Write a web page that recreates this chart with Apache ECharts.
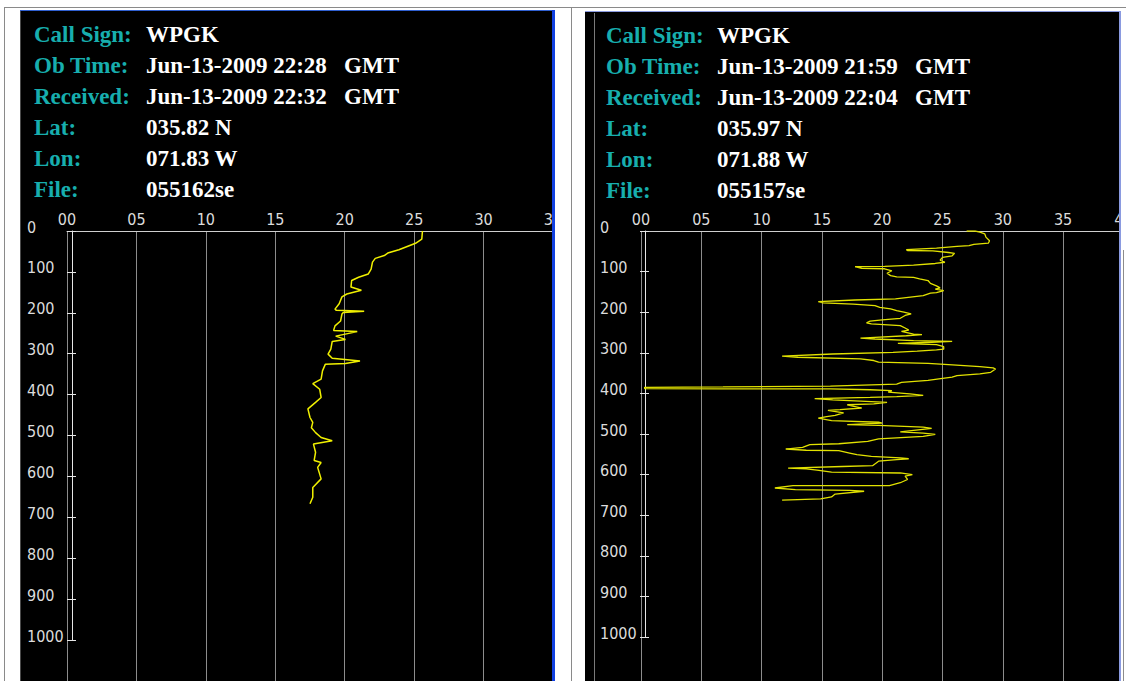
<!DOCTYPE html>
<html>
<head>
<meta charset="utf-8">
<script src="https://cdn.jsdelivr.net/npm/echarts@6/dist/echarts.min.js"></script>
<style>
html, body { margin: 0; padding: 0; background: #fff; }
#xbtChart { width: 1126px; height: 681px; }
</style>
</head>
<body>
<div id="xbtChart"></div>
<script>
// header fields
var headerLabels = ['Call Sign:', 'Ob Time:', 'Received:', 'Lat:', 'Lon:', 'File:'];
var leftHeader = ['WPGK', 'Jun-13-2009 22:28\u00a0\u00a0\u00a0GMT', 'Jun-13-2009 22:32\u00a0\u00a0\u00a0GMT', '035.82 N', '071.83 W', '055162se'];
var rightHeader = ['WPGK', 'Jun-13-2009 21:59\u00a0\u00a0\u00a0GMT', 'Jun-13-2009 22:04\u00a0\u00a0\u00a0GMT', '035.97 N', '071.88 W', '055157se'];

// temperature axis (top) and depth axis (left)
var leftTempMax = 35;
var rightTempMax = 40;
var tempStep = 5;
var depthMax = 1000;
var depthStep = 100;

// profile 055162se: temperature / depth
var leftTemp = [25.6, 25.55, 25.1, 24.5, 23.9, 23.1, 22.85, 22.2, 22.0, 21.9, 21.7, 21.0, 20.5, 20.45, 21.2, 20.15,
	19.8, 19.6, 19.3, 19.4, 21.4, 19.9, 19.8, 19.7, 19.3, 19.2, 20.9, 19.35, 20.05, 19.1, 19.0, 18.8, 19.1, 21.1,
	20.05, 18.6, 18.4, 18.3, 17.7, 18.2, 18.3, 17.9, 17.35, 17.5, 17.7, 17.6, 17.9, 18.3, 19.1, 17.75, 17.9, 17.8,
	18.3, 18.05, 18.3, 17.7, 17.7, 17.5];
var leftDepth = [0, 20, 30, 38, 46, 54, 60, 67, 76, 93, 105, 113, 121, 137, 145, 154,
	161, 178, 191, 194, 196, 199, 203, 220, 232, 243, 246, 257, 265, 270, 289, 301, 311, 318,
	324, 326, 342, 362, 373, 387, 407, 419, 435, 456, 468, 481, 493, 505, 513, 521, 541, 561,
	566, 578, 606, 627, 651, 667];

// profile 055157se: temperature / depth
var rightTemp = [27.0, 27.7, 28.1, 28.5, 28.6, 28.9, 28.8, 27.6, 27.2, 26.2, 24.5, 22.0, 22.1, 24.2, 25.5, 26.0,
	25.8, 25.0, 24.8, 25.2, 24.4, 22.6, 20.2, 17.75, 18.3, 20.2, 20.8, 20.4, 20.7, 21.2, 22.6, 23.1, 23.8, 24.0,
	24.5, 24.8, 24.4, 25.1, 24.5, 24.0, 23.4, 21.1, 17.75, 14.7, 15.1, 17.6, 19.4, 19.8, 20.7, 21.2, 21.8, 22.4,
	21.9, 21.5, 20.0, 19.0, 18.7, 19.1, 21.5, 21.9, 22.2, 21.6, 22.6, 23.3, 22.0, 19.4, 18.2, 19.4, 22.6, 25.8,
	24.1, 21.3, 24.5, 25.1, 25.1, 24.5, 22.9, 20.9, 15.9, 11.7, 13.0, 18.2, 19.3, 19.7, 23.8, 25.5, 28.1, 29.2,
	29.4, 29.0, 28.1, 26.2, 25.8, 24.7, 23.8, 21.6, 21.2, 19.1, 15.7, 6.8, 0.3, 0.3, 6.8, 15.7, 19.0, 20.8,
	20.5, 22.3, 23.4, 21.2, 19.0, 14.4, 15.9, 18.2, 20.4, 19.3, 17.1, 18.3, 16.5, 15.5, 16.8, 16.1, 15.4, 14.7,
	15.8, 19.7, 20.0, 17.1, 19.7, 23.4, 24.1, 21.5, 23.4, 24.4, 23.4, 19.7, 18.8, 16.4, 14.0, 13.4, 12.0, 13.7,
	16.4, 17.3, 17.9, 19.1, 21.5, 22.2, 21.2, 19.7, 19.2, 16.7, 12.2, 13.7, 14.6, 15.8, 21.5, 22.5, 21.9, 22.1,
	21.5, 20.6, 12.6, 11.1, 12.8, 17.3, 18.5, 16.1, 15.8, 14.9, 11.7];
var rightDepth = [0, 0, 3, 7, 15, 24, 30, 33, 36, 38, 42, 46, 48, 49, 53, 55,
	61, 65, 72, 77, 80, 84, 87, 88, 92, 93, 98, 104, 110, 113, 114, 118, 122, 129,
	135, 140, 143, 147, 152, 153, 159, 167, 170, 174, 177, 180, 184, 188, 192, 196, 200, 204,
	208, 215, 219, 222, 226, 229, 233, 239, 244, 247, 254, 255, 258, 262, 264, 266, 270, 272,
	274, 277, 280, 285, 291, 293, 296, 299, 303, 308, 311, 315, 319, 323, 326, 329, 334, 337,
	340, 348, 352, 356, 360, 364, 368, 373, 377, 379, 382, 384, 385, 388, 389, 389, 391, 393,
	397, 401, 405, 408, 410, 413, 416, 419, 422, 426, 428, 436, 440, 442, 448, 454, 457, 461,
	467, 471, 473, 477, 479, 483, 486, 495, 498, 501, 506, 512, 518, 524, 526, 533, 537, 540,
	541, 547, 551, 555, 559, 561, 563, 567, 578, 580, 584, 586, 589, 594, 596, 600, 604, 612,
	620, 627, 627, 633, 637, 639, 641, 648, 655, 660, 663];

var labelFont = '"DejaVu Sans Condensed", "Liberation Sans", Arial, sans-serif';
var headerFont = 'bold 23px "Liberation Serif", "Times New Roman", serif';

var myChart;
chartInit();

function chartInit() {
	myChart = echarts.init(document.getElementById('xbtChart'), null, { renderer: 'svg' });
	myChart.setOption(buildOption());
}

function zip(xs, ys) {
	var out = [];
	for (var i = 0; i < xs.length; i++) {
		out.push([xs[i], ys[i]]);
	}
	return out;
}

function pad2(v) {
	return (v < 10 ? '0' : '') + v;
}

// plot area: gridlines + profile
function plotXAxis(gridIndex, max) {
	return {
		type: 'value', gridIndex: gridIndex, position: 'top',
		min: 0, max: max, interval: tempStep,
		axisLine: { show: true, lineStyle: { color: '#cfcfcf', width: 1 } },
		axisTick: { show: false },
		axisLabel: { margin: 4, color: '#dcdcdc', fontFamily: labelFont, fontSize: 16, formatter: pad2 },
		splitLine: { show: true, lineStyle: { color: '#8c8c8c', width: 1 } }
	};
}
function hiddenAxis(gridIndex, inverse, max) {
	return { type: 'value', gridIndex: gridIndex, show: false, inverse: inverse, min: 0, max: max };
}
// depth axis: line with labels, outward ticks
function depthAxis(gridIndex) {
	return {
		type: 'value', gridIndex: gridIndex, position: 'left', inverse: true,
		min: 0, max: depthMax, interval: depthStep,
		axisLine: { show: true, lineStyle: { color: '#e6e6e6', width: 1 } },
		axisTick: { show: true, length: 5, lineStyle: { color: '#e6e6e6' } },
		axisLabel: {
			show: true, align: 'left', verticalAlign: 'bottom', lineHeight: 8, margin: 45,
			color: '#dcdcdc', fontFamily: labelFont, fontSize: 16,
			formatter: function(v) { return String(v); }
		},
		splitLine: { show: false }
	};
}
// depth axis: inward ticks only
function depthTicksIn(gridIndex) {
	return {
		type: 'value', gridIndex: gridIndex, position: 'left', inverse: true,
		min: 0, max: depthMax, interval: depthStep,
		axisLine: { show: false },
		axisTick: { show: true, inside: true, length: 4, lineStyle: { color: '#e6e6e6' } },
		axisLabel: { show: false },
		splitLine: { show: false }
	};
}

function headerText(x0, x1, y0, values) {
	var els = [];
	for (var i = 0; i < headerLabels.length; i++) {
		els.push({ type: 'text', x: x0, y: y0 + i * 31, z: 10,
			style: { text: headerLabels[i], fill: '#17aeae', font: headerFont, verticalAlign: 'middle' } });
		els.push({ type: 'text', x: x1, y: y0 + i * 31, z: 10,
			style: { text: values[i], fill: '#ffffff', font: headerFont, verticalAlign: 'middle' } });
	}
	return els;
}

function buildOption() {
	var graphics = [
		// page frame
		{ type: 'rect', z: -5, shape: { x: 20, y: 10, width: 535, height: 671 }, style: { fill: '#000' } },
		{ type: 'rect', z: -5, shape: { x: 585, y: 11, width: 536, height: 670 }, style: { fill: '#000' } },
		{ type: 'line', z: 50, shape: { x1: 4, y1: 7.5, x2: 1126, y2: 7.5 }, style: { stroke: '#8a8a8a', lineWidth: 1 } },
		{ type: 'line', z: 50, shape: { x1: 4.5, y1: 7, x2: 4.5, y2: 681 }, style: { stroke: '#8a8a8a', lineWidth: 1 } },
		{ type: 'line', z: 50, shape: { x1: 571.5, y1: 7, x2: 571.5, y2: 681 }, style: { stroke: '#8a8a8a', lineWidth: 1 } },
		// label clipping at the panel edges
		{ type: 'rect', z: 40, shape: { x: 555, y: 190, width: 16, height: 60 }, style: { fill: '#fff' } },
		{ type: 'rect', z: 40, shape: { x: 1121, y: 190, width: 5, height: 60 }, style: { fill: '#fff' } },
		// left panel borders
		{ type: 'line', z: 50, shape: { x1: 20.5, y1: 10, x2: 20.5, y2: 681 }, style: { stroke: '#4a4a4a', lineWidth: 1 } },
		{ type: 'line', z: 50, shape: { x1: 20, y1: 10.5, x2: 555, y2: 10.5 }, style: { stroke: '#2f5fd0', lineWidth: 1 } },
		{ type: 'rect', z: 50, shape: { x: 552, y: 10, width: 3, height: 671 }, style: { fill: '#1140e0' } },
		// right panel borders
		{ type: 'line', z: 50, shape: { x1: 585, y1: 11.5, x2: 1121, y2: 11.5 }, style: { stroke: '#8a9ae0', lineWidth: 1 } },
		{ type: 'rect', z: 50, shape: { x: 1119, y: 11, width: 2, height: 670 }, style: { fill: '#8a9ae0' } },
		{ type: 'line', z: 50, shape: { x1: 594.5, y1: 13, x2: 594.5, y2: 681 }, style: { stroke: '#7a7a7a', lineWidth: 1 } }
	];
	graphics = graphics.concat(headerText(34, 146, 34.5, leftHeader));
	graphics = graphics.concat(headerText(606, 717, 35.5, rightHeader));

	return {
		animation: false,
		backgroundColor: '#fff',
		grid: [
			{ left: 67, top: 231, width: 486, height: 1200 * 0.409, containLabel: false, outerBoundsMode: 'none' },
			{ left: 72, top: 231, width: 1, height: depthMax * 0.409, containLabel: false, outerBoundsMode: 'none' },
			{ left: 641, top: 231, width: 482.4, height: 1200 * 0.406, containLabel: false, outerBoundsMode: 'none' },
			{ left: 645, top: 231, width: 1, height: depthMax * 0.406, containLabel: false, outerBoundsMode: 'none' }
		],
		xAxis: [
			plotXAxis(0, leftTempMax),
			hiddenAxis(1, false, 1),
			plotXAxis(2, rightTempMax),
			hiddenAxis(3, false, 1)
		],
		yAxis: [
			hiddenAxis(0, true, 1200),
			depthAxis(1),
			depthTicksIn(1),
			hiddenAxis(2, true, 1200),
			depthAxis(3),
			depthTicksIn(3)
		],
		graphic: { elements: graphics },
		series: [
			{
				name: '055162se', type: 'line', xAxisIndex: 0, yAxisIndex: 0,
				showSymbol: false, symbol: 'none',
				lineStyle: { color: '#f0f000', width: 1.5 },
				data: zip(leftTemp, leftDepth)
			},
			{
				name: '055157se', type: 'line', xAxisIndex: 2, yAxisIndex: 3,
				showSymbol: false, symbol: 'none',
				lineStyle: { color: '#e2e200', width: 1.3 },
				data: zip(rightTemp, rightDepth)
			}
		]
	};
}
</script>
</body>
</html>
